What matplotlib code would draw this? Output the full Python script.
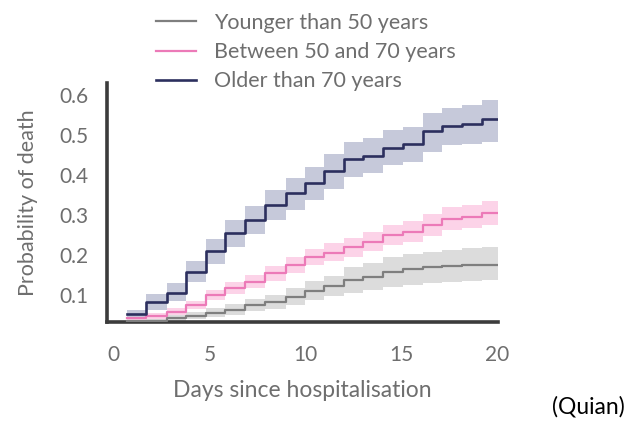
import matplotlib
matplotlib.use('Agg')
import matplotlib.pyplot as plt

# Kaplan-Meier style cumulative probability of death
step_days = [0.7, 1.7, 2.75, 3.75, 4.8, 5.8, 6.85, 7.9, 8.95, 9.95,
             10.95, 12.0, 13.0, 14.05, 15.05, 16.1, 17.1, 18.15, 19.2]
end_day = 20.0

older = [0.052, 0.082, 0.106, 0.158, 0.209, 0.254, 0.288, 0.325, 0.354, 0.380,
         0.411, 0.440, 0.448, 0.468, 0.478, 0.509, 0.522, 0.528, 0.539]
older_lo = [0.042, 0.063, 0.084, 0.132, 0.178, 0.220, 0.252, 0.288, 0.313, 0.338,
            0.364, 0.396, 0.404, 0.425, 0.433, 0.458, 0.475, 0.478, 0.483]
older_hi = [0.062, 0.103, 0.130, 0.186, 0.240, 0.287, 0.323, 0.362, 0.393, 0.421,
            0.453, 0.482, 0.492, 0.512, 0.520, 0.554, 0.568, 0.575, 0.588]

middle = [0.042, 0.048, 0.058, 0.075, 0.100, 0.117, 0.133, 0.154, 0.174, 0.195,
          0.206, 0.219, 0.233, 0.250, 0.258, 0.275, 0.290, 0.296, 0.306]
middle_lo = [0.036, 0.041, 0.050, 0.064, 0.087, 0.102, 0.117, 0.136, 0.155, 0.174,
             0.184, 0.196, 0.209, 0.225, 0.232, 0.248, 0.262, 0.267, 0.276]
middle_hi = [0.048, 0.056, 0.067, 0.086, 0.113, 0.132, 0.150, 0.172, 0.194, 0.216,
             0.229, 0.243, 0.258, 0.276, 0.285, 0.303, 0.319, 0.326, 0.336]

younger = [0.036, 0.036, 0.042, 0.048, 0.056, 0.063, 0.075, 0.083, 0.096, 0.111,
           0.122, 0.137, 0.146, 0.158, 0.164, 0.169, 0.172, 0.176, 0.176]
younger_lo = [0.033, 0.033, 0.036, 0.040, 0.045, 0.050, 0.060, 0.066, 0.076, 0.088,
              0.097, 0.104, 0.112, 0.121, 0.126, 0.130, 0.132, 0.136, 0.137]
younger_hi = [0.040, 0.041, 0.050, 0.058, 0.068, 0.077, 0.091, 0.101, 0.117, 0.134,
              0.148, 0.171, 0.180, 0.195, 0.202, 0.208, 0.212, 0.218, 0.219]

labels = ['Younger than 50 years', 'Between 50 and 70 years', 'Older than 70 years']
x_ticks = [0, 5, 10, 15, 20]
y_ticks = [0.1, 0.2, 0.3, 0.4, 0.5, 0.6]

TXT = '#6e6e6e'
plt.rcParams['font.family'] = ['Lato', 'DejaVu Sans']

fig = plt.figure(figsize=(6.28, 4.21), dpi=100)
fig.patch.set_facecolor('white')
ax = fig.add_axes([107 / 628, 1 - 322 / 421, (498 - 107) / 628, (322 - 83) / 421])

xs = step_days + [end_day]
series = [
    (younger, younger_lo, younger_hi, '#7f7f7f', '#dcdcdc', 1.6),
    (middle, middle_lo, middle_hi, '#ec7ab8', '#fcd3e8', 1.6),
    (older, older_lo, older_hi, '#2c2f5e', '#c6c9da', 1.9),
]
for vals, lo, hi, lc, bc, lw in series:
    ax.fill_between(xs, lo + [lo[-1]], hi + [hi[-1]], step='post',
                    color=bc, lw=0, zorder=1)
handles = []
for (vals, lo, hi, lc, bc, lw), lab in zip(series, labels):
    h, = ax.step(xs, vals + [vals[-1]], where='post', color=lc, lw=lw,
                 zorder=3, label=lab)
    handles.append(h)

ax.set_xlim(-0.35, 20.02)
ax.set_ylim(0.0325, 0.63)
ax.set_xticks(x_ticks)
ax.set_yticks(y_ticks)
ax.set_yticklabels([f'{v:.1f}' for v in y_ticks])
ax.tick_params(length=0, labelsize=15, colors=TXT)
ax.tick_params(axis='y', pad=13)
ax.tick_params(axis='x', pad=16.5)
for s in ['top', 'right']:
    ax.spines[s].set_visible(False)
for s in ['left', 'bottom']:
    ax.spines[s].set_linewidth(2.6)
    ax.spines[s].set_color('#3c3c3c')

ax.set_xlabel('Days since hospitalisation', fontsize=16.5, color=TXT, labelpad=11)
ax.set_ylabel('Probability of death', fontsize=15.5, color=TXT, labelpad=16)

fig.legend(handles, labels, loc='upper left', bbox_to_anchor=(156 / 628, 1 - 13 / 421),
           frameon=False, fontsize=15.5, labelcolor=TXT, handlelength=1.85,
           handletextpad=0.85, labelspacing=0.42, borderaxespad=0, borderpad=0)

fig.text(625 / 628, 1 - 407 / 421, '(Quian)', ha='right', va='center',
         fontsize=16.5, color='black')

fig.savefig('out.png', dpi=100, facecolor='white')
